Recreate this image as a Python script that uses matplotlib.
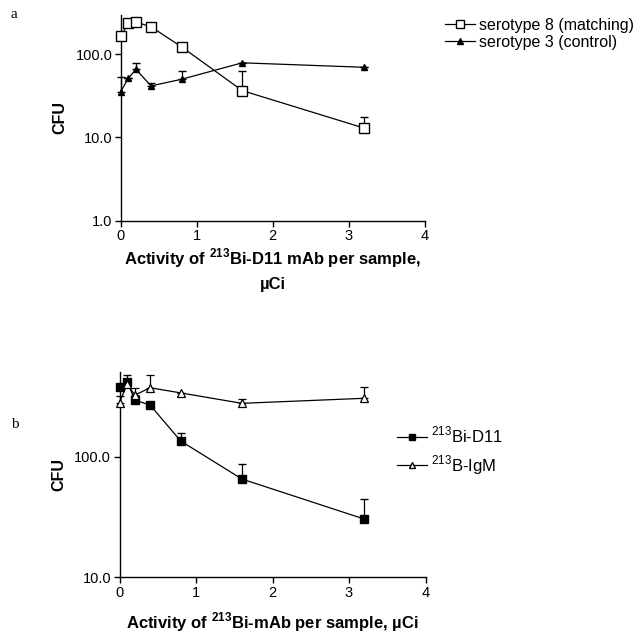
import numpy as np
import matplotlib
matplotlib.use('Agg')
import matplotlib.pyplot as plt
from matplotlib.lines import Line2D
from matplotlib.ticker import FixedLocator, FixedFormatter, NullLocator

plt.rcParams['font.family'] = ['Liberation Sans', 'DejaVu Sans']
plt.rcParams['mathtext.fontset'] = 'custom'
plt.rcParams['mathtext.rm'] = 'Liberation Sans'
plt.rcParams['mathtext.bf'] = 'Liberation Sans:bold'

# panel a data
dose_a = [0, 0.1, 0.2, 0.4, 0.8, 1.6, 3.2]
sero8 = [164, 238, 244, 214, 123, 36.6, 13.0]
sero8_err = [0, 0, 0, 0, 0, 27, 4.8]
sero3 = [35.6, 51.5, 66, 41.7, 50.1, 79, 69.8]
sero3_err = [17.4, 0, 12, 3.9, 13.5, 0, 0]

# panel b data
dose_b = [0, 0.1, 0.2, 0.4, 0.8, 1.6, 3.2]
d11 = [376, 419, 295, 268, 135, 65.3, 30.4]
d11_err = [0, 60, 0, 0, 21, 21, 14.2]
igm = [281, 400, 324, 373, 338, 277, 305]
igm_err = [40, 0, 47, 100, 0, 24, 71]

W, H = 643, 634
fig = plt.figure(figsize=(W / 100, H / 100), dpi=100)


def px_axes(left, right, bottom, top):
    return fig.add_axes([left / W, 1 - bottom / H, (right - left) / W, (bottom - top) / H])


def style(ax, ymin, ymax, yticks, ylabels):
    ax.set_yscale('log')
    ax.set_xlim(0, 4)
    ax.set_ylim(ymin, ymax)
    for s in ['top', 'right']:
        ax.spines[s].set_visible(False)
    for s in ['left', 'bottom']:
        ax.spines[s].set_linewidth(1.0)
    ax.xaxis.set_major_locator(FixedLocator([0, 1, 2, 3, 4]))
    ax.yaxis.set_major_locator(FixedLocator(yticks))
    ax.yaxis.set_major_formatter(FixedFormatter(ylabels))
    ax.yaxis.set_minor_locator(NullLocator())
    ax.tick_params(direction='out', length=4, width=1.0, labelsize=10.5, pad=2)
    ax.set_ylabel('CFU', fontsize=11.5, fontweight='bold', labelpad=6)


def upper(err):
    return [np.zeros(len(err)), err]


# ---- panel a ----
ax1 = px_axes(120.7, 424.7, 220.7, 14.6)
style(ax1, 1, 300, [1, 10, 100], ['1.0', '10.0', '100.0'])
ax1.errorbar(dose_a, sero8, yerr=upper(sero8_err), color='black',
             marker='s', markersize=7, markerfacecolor='white', markeredgecolor='black',
             markeredgewidth=1.0, linewidth=0.9, capsize=3, elinewidth=0.9,
             clip_on=False, zorder=3)
ax1.errorbar(dose_a, sero3, yerr=upper(sero3_err), color='black',
             marker='^', markersize=4.5, markerfacecolor='black', linewidth=0.9,
             capsize=3, elinewidth=0.9, clip_on=False, zorder=3)
h8 = Line2D([], [], color='black', lw=0.9, marker='s', markersize=6,
            markerfacecolor='white', markeredgecolor='black')
h3 = Line2D([], [], color='black', lw=0.9, marker='^', markersize=4, markerfacecolor='black')
ax1.legend([h8, h3], ['serotype 8 (matching)', 'serotype 3 (control)'],
           loc='upper left', bbox_to_anchor=(445 / W, 1 - 18 / H), bbox_transform=fig.transFigure,
           frameon=False, fontsize=11.5, handlelength=1.9, handletextpad=0.25, labelspacing=0.12,
           borderpad=0, borderaxespad=0)
fig.text(272.7 / W, 1 - 258 / H, 'Activity of $^{\\mathbf{213}}$Bi-D11 mAb per sample,',
         ha='center', va='center', fontsize=12, fontweight='bold')
fig.text(272.7 / W, 1 - 285 / H, '\u00b5Ci', ha='center', va='center', fontsize=12, fontweight='bold')
fig.text(14 / W, 1 - 15 / H, 'a', family='Liberation Serif', fontsize=11, ha='center', va='center')

# ---- panel b ----
ax2 = px_axes(119.5, 425.5, 577.3, 372.4)
style(ax2, 10, 500, [10, 100], ['10.0', '100.0'])
ax2.errorbar(dose_b, d11, yerr=upper(d11_err), color='black',
             marker='s', markersize=5.5, markerfacecolor='black', linewidth=0.9,
             capsize=3, elinewidth=0.9, clip_on=False, zorder=3)
ax2.errorbar(dose_b, igm, yerr=upper(igm_err), color='black',
             marker='^', markersize=6, markerfacecolor='white', markeredgecolor='black',
             markeredgewidth=0.9, linewidth=0.9, capsize=3, elinewidth=0.9,
             clip_on=False, zorder=3)
hd = Line2D([], [], color='black', lw=0.9, marker='s', markersize=5, markerfacecolor='black')
hi = Line2D([], [], color='black', lw=0.9, marker='^', markersize=5,
            markerfacecolor='white', markeredgecolor='black')
ax2.legend([hd, hi], ['$^{213}$Bi-D11', '$^{213}$B-IgM'],
           loc='upper left', bbox_to_anchor=(397 / W, 1 - 425 / H), bbox_transform=fig.transFigure,
           frameon=False, fontsize=12, handlelength=1.8, handletextpad=0.25, labelspacing=0.45,
           borderpad=0, borderaxespad=0)
fig.text(272.7 / W, 1 - 622 / H, 'Activity of $^{\\mathbf{213}}$Bi-mAb per sample, \u00b5Ci',
         ha='center', va='center', fontsize=12, fontweight='bold')
fig.text(15 / W, 1 - 425 / H, 'b', family='Liberation Serif', fontsize=11, ha='center', va='center')

fig.savefig('out.png', dpi=100)
